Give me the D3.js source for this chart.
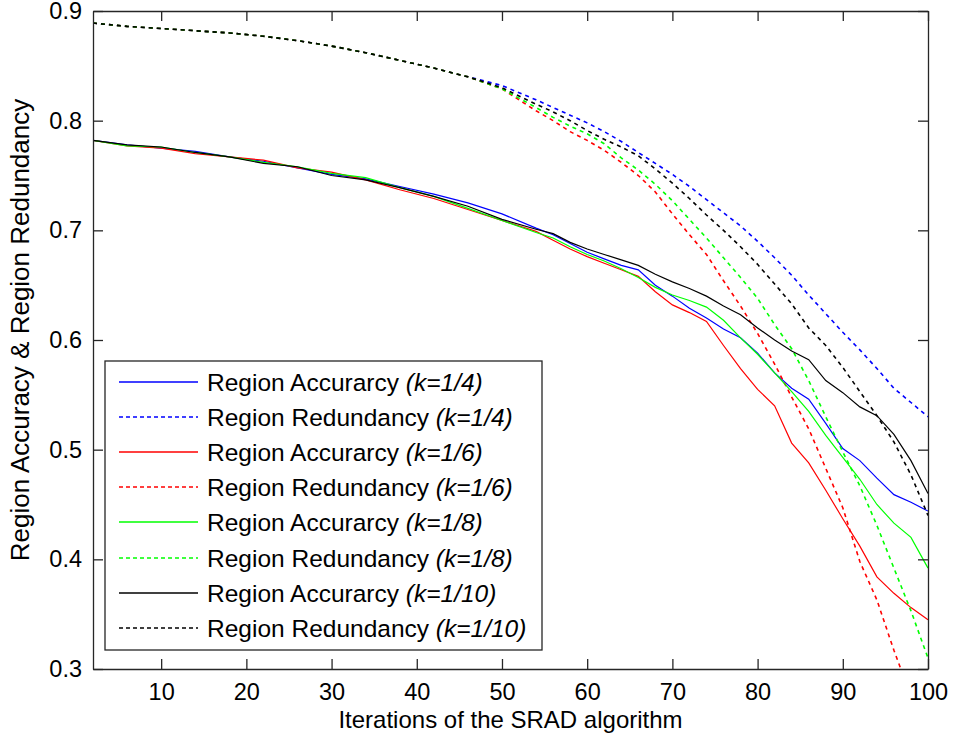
<!DOCTYPE html>
<html>
<head>
<meta charset="utf-8">
<script src="https://cdn.jsdelivr.net/npm/d3@7"></script>
<style>
  body { margin: 0; background: #fff; }
  text { font-family: "Liberation Sans", Arial, sans-serif; }
</style>
</head>
<body>
<div id="chart"></div>
<script>
// iterations (x values)
var iterations = [2, 6, 10, 14, 18, 22, 26, 30, 34, 38, 42, 46, 50, 54, 56, 58, 60, 62, 64, 66, 68, 70,
  72, 74, 76, 78, 80, 82, 84, 86, 88, 90, 92, 94, 96, 98, 100];

// accuracy curves
var accK4 = [0.782, 0.778, 0.775, 0.772, 0.767, 0.763, 0.757, 0.751, 0.747, 0.740, 0.733, 0.725, 0.715, 0.702, 0.696, 0.688, 0.680, 0.674, 0.668, 0.664, 0.650, 0.640,
  0.629, 0.620, 0.610, 0.602, 0.588, 0.570, 0.556, 0.546, 0.524, 0.501, 0.490, 0.474, 0.459, 0.452, 0.444];
var accK6 = [0.782, 0.777, 0.775, 0.770, 0.767, 0.764, 0.757, 0.753, 0.746, 0.737, 0.729, 0.719, 0.709, 0.699, 0.691, 0.683, 0.676, 0.670, 0.664, 0.658, 0.644, 0.632,
  0.625, 0.617, 0.595, 0.574, 0.555, 0.540, 0.506, 0.488, 0.463, 0.437, 0.412, 0.384, 0.369, 0.356, 0.345];
var accK8 = [0.782, 0.777, 0.776, 0.771, 0.767, 0.762, 0.758, 0.752, 0.748, 0.739, 0.731, 0.720, 0.709, 0.698, 0.693, 0.685, 0.678, 0.672, 0.665, 0.657, 0.648, 0.641,
  0.636, 0.630, 0.618, 0.602, 0.587, 0.570, 0.553, 0.535, 0.513, 0.493, 0.473, 0.450, 0.433, 0.420, 0.392];
var accK10 = [0.782, 0.778, 0.776, 0.771, 0.767, 0.761, 0.758, 0.750, 0.746, 0.739, 0.731, 0.722, 0.710, 0.701, 0.697, 0.689, 0.683, 0.678, 0.673, 0.668, 0.660, 0.653,
  0.647, 0.640, 0.631, 0.623, 0.611, 0.600, 0.590, 0.582, 0.563, 0.552, 0.539, 0.531, 0.514, 0.490, 0.460];

// redundancy curves
var redK4 = [0.889, 0.886, 0.884, 0.882, 0.880, 0.877, 0.873, 0.868, 0.862, 0.855, 0.848, 0.840, 0.832, 0.819, 0.812, 0.805, 0.798, 0.790, 0.781, 0.771, 0.761, 0.751,
  0.740, 0.728, 0.716, 0.704, 0.690, 0.675, 0.659, 0.641, 0.624, 0.607, 0.591, 0.574, 0.556, 0.543, 0.530];
var redK6 = [0.889, 0.886, 0.884, 0.882, 0.880, 0.877, 0.873, 0.868, 0.862, 0.855, 0.848, 0.840, 0.829, 0.809, 0.800, 0.790, 0.782, 0.773, 0.762, 0.750, 0.735, 0.715,
  0.696, 0.678, 0.654, 0.631, 0.606, 0.578, 0.548, 0.519, 0.483, 0.447, 0.398, 0.363, 0.317, 0.275, 0.235];
var redK8 = [0.889, 0.886, 0.884, 0.882, 0.880, 0.877, 0.873, 0.868, 0.862, 0.855, 0.848, 0.840, 0.829, 0.812, 0.803, 0.795, 0.788, 0.779, 0.766, 0.755, 0.742, 0.727,
  0.710, 0.693, 0.675, 0.657, 0.638, 0.614, 0.592, 0.563, 0.530, 0.498, 0.467, 0.431, 0.392, 0.353, 0.310];
var redK10 = [0.889, 0.886, 0.884, 0.882, 0.880, 0.877, 0.873, 0.868, 0.862, 0.855, 0.848, 0.840, 0.830, 0.815, 0.808, 0.800, 0.791, 0.783, 0.776, 0.768, 0.756, 0.743,
  0.729, 0.714, 0.700, 0.685, 0.669, 0.651, 0.633, 0.611, 0.595, 0.575, 0.553, 0.531, 0.507, 0.477, 0.440];

var xTicks = [10, 20, 30, 40, 50, 60, 70, 80, 90, 100];
var yTicks = [0.3, 0.4, 0.5, 0.6, 0.7, 0.8, 0.9];

var series = [
  {name: "Region Accurarcy", k: "k=1/4", values: accK4, color: "#0000ff", dashed: false},
  {name: "Region Redundancy", k: "k=1/4", values: redK4, color: "#0000ff", dashed: true},
  {name: "Region Accurarcy", k: "k=1/6", values: accK6, color: "#ff0000", dashed: false},
  {name: "Region Redundancy", k: "k=1/6", values: redK6, color: "#ff0000", dashed: true},
  {name: "Region Accurarcy", k: "k=1/8", values: accK8, color: "#00ff00", dashed: false},
  {name: "Region Redundancy", k: "k=1/8", values: redK8, color: "#00ff00", dashed: true},
  {name: "Region Accurarcy", k: "k=1/10", values: accK10, color: "#000000", dashed: false},
  {name: "Region Redundancy", k: "k=1/10", values: redK10, color: "#000000", dashed: true}
];

// dimensions
var margin = {top: 11, right: 25, bottom: 75, left: 93},
    width = 928 - margin.left,
    height = 669 - margin.top;

var svg = d3.select("#chart")
  .append("svg")
    .attr("width", 953)
    .attr("height", 744)
  .append("g")
    .attr("transform", "translate(" + margin.left + "," + margin.top + ")");

var x = d3.scaleLinear().domain([2, 100]).range([0, width]);
var y = d3.scaleLinear().domain([0.3, 0.9]).range([height, 0]);

var axisColor = "#262626";
var tickLen = 10;

// clip the curves to the plot box
svg.append("clipPath")
  .attr("id", "clip")
  .append("rect")
    .attr("width", width)
    .attr("height", height);

var line = d3.line()
  .x(function(d) { return x(d[0]); })
  .y(function(d) { return y(d[1]); });

var curves = svg.append("g").attr("clip-path", "url(#clip)");

series.forEach(function(s) {
  curves.append("path")
    .datum(iterations.map(function(it, i) { return [it, s.values[i]]; }))
    .attr("d", line)
    .attr("fill", "none")
    .attr("stroke", s.color)
    .attr("stroke-width", s.dashed ? 1.6 : 1.2)
    .attr("stroke-dasharray", s.dashed ? "4,4" : null);
});

// axes, MATLAB style with inward ticks on every side
var xBottom = svg.append("g")
  .attr("transform", "translate(0," + height + ")")
  .call(d3.axisBottom(x).tickValues(xTicks).tickSize(-tickLen).tickPadding(14).tickSizeOuter(0));
var xTop = svg.append("g")
  .call(d3.axisTop(x).tickValues(xTicks).tickSize(-tickLen).tickFormat("").tickSizeOuter(0));
var yLeft = svg.append("g")
  .call(d3.axisLeft(y).tickValues(yTicks).tickSize(-tickLen).tickPadding(11).tickFormat(d3.format(".1f")).tickSizeOuter(0));
var yRight = svg.append("g")
  .attr("transform", "translate(" + width + ",0)")
  .call(d3.axisRight(y).tickValues(yTicks).tickSize(-tickLen).tickFormat("").tickSizeOuter(0));

[xBottom, xTop, yLeft, yRight].forEach(function(a) {
  a.selectAll("path").style("stroke", axisColor).style("stroke-width", 1.3);
  a.selectAll("line").style("stroke", axisColor).style("stroke-width", 1.3);
  a.selectAll("text")
    .style("fill", "#000")
    .style("font-size", "23.5px")
    .style("font-family", "'Liberation Sans', Arial, sans-serif");
});

// axis labels
svg.append("text")
  .attr("x", width / 2)
  .attr("y", height + 59)
  .attr("text-anchor", "middle")
  .style("font-size", "24px")
  .text("Iterations of the SRAD algorithm");

svg.append("text")
  .attr("transform", "translate(" + (-64) + "," + (height / 2 - 10) + ")rotate(-90)")
  .attr("text-anchor", "middle")
  .style("font-size", "26px")
  .text("Region Accuracy & Region Redundancy");

// legend
var legend = svg.append("g")
  .attr("transform", "translate(" + (105 - margin.left) + "," + (361 - margin.top) + ")");

legend.append("rect")
  .attr("width", 437)
  .attr("height", 289)
  .attr("fill", "#fff")
  .attr("stroke", axisColor)
  .attr("stroke-width", 1.3);

series.forEach(function(s, i) {
  var cy = Math.round(21 + i * 35.1);
  legend.append("line")
    .attr("x1", 14)
    .attr("x2", 93)
    .attr("y1", cy)
    .attr("y2", cy)
    .attr("stroke", s.color)
    .attr("stroke-width", s.dashed ? 1.6 : 1.3)
    .attr("stroke-dasharray", s.dashed ? "4,3" : null);
  var t = legend.append("text")
    .attr("x", 102)
    .attr("y", cy + 8.5)
    .style("font-size", "24.5px");
  t.append("tspan").text(s.name + " ");
  t.append("tspan").style("font-style", "italic").text("(" + s.k + ")");
});
</script>
</body>
</html>
